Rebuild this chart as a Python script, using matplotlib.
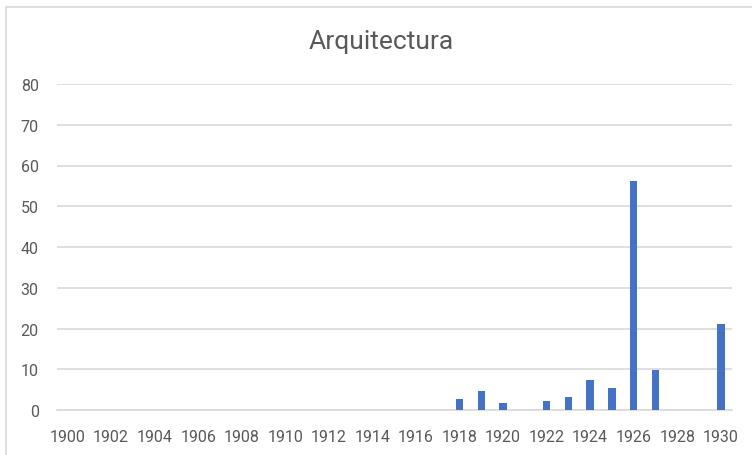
import matplotlib.pyplot as plt
from matplotlib.patches import Rectangle

plt.rcParams['font.family'] = ['Roboto', 'DejaVu Sans']

# Data
years = list(range(1900, 1931))
values = [0] * 18 + [2.8, 4.7, 1.7, 0, 2.2, 3.3, 7.4, 5.3, 56.3, 9.9, 0, 0, 21.1]
tick_years = years[::2]
y_ticks = [0, 10, 20, 30, 40, 50, 60, 70, 80]

W, H = 752, 456
fig = plt.figure(figsize=(W / 100, H / 100), dpi=100)

# Outer chart border (Excel style, cropped on right and bottom)
fig.patches.append(Rectangle((6 / W, -0.1), 1.1, 1.1 - 8 / H, transform=fig.transFigure,
                             fill=False, edgecolor='#D9D9D9', linewidth=1.2))

ax = fig.add_axes([56.7 / W, (H - 411) / H, (731.7 - 56.7) / W, (411 - 85) / H])

ax.bar(years, values, width=0.34, color='#4472C4', zorder=3)

ax.set_xlim(years[0] - 0.5, years[-1] + 0.5)
ax.set_ylim(0, 80)
ax.set_yticks(y_ticks)
ax.set_xticks(tick_years)
ax.set_xticklabels([str(y) for y in tick_years])

ax.grid(axis='y', color='#D9D9D9', linewidth=1.2, zorder=0)
for s in ['top', 'right', 'left']:
    ax.spines[s].set_visible(False)
ax.spines['bottom'].set_color('#D9D9D9')
ax.spines['bottom'].set_linewidth(1.2)

ax.tick_params(axis='both', length=0, colors='#595959', labelsize=11.5)
ax.tick_params(axis='y', pad=13)
ax.tick_params(axis='x', pad=14)

fig.text(381 / W, 1 - 42 / H, 'Arquitectura', ha='center', va='center',
         fontsize=19, color='#595959')

fig.savefig('out.png', dpi=100)
